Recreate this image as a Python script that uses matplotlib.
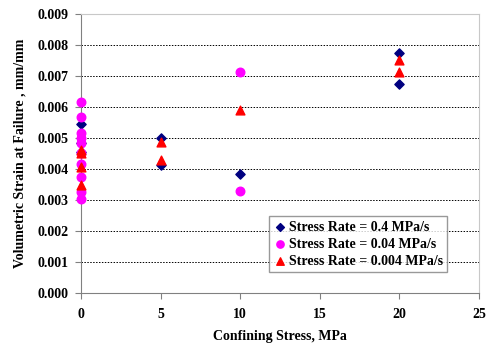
import matplotlib.pyplot as plt
import matplotlib.ticker as mticker

# Confining stress (MPa) and volumetric strain at failure (mm/mm)
x_04 = [0, 0, 0, 5, 5, 10, 20, 20]
y_04 = [0.00547, 0.00483, 0.00455, 0.00502, 0.00412, 0.00384, 0.00776, 0.00676]

x_004 = [0, 0, 0, 0, 0, 0, 0, 0, 0, 0, 10, 10]
y_004 = [0.00617, 0.00567, 0.00515, 0.00500, 0.00483, 0.00451, 0.00418,
         0.00375, 0.00327, 0.00302, 0.00713, 0.00330]

x_0004 = [0, 0, 0, 0, 5, 5, 10, 20, 20]
y_0004 = [0.00461, 0.00451, 0.00407, 0.00348, 0.00487, 0.00428, 0.00590, 0.00752, 0.00713]

labels = ["Stress Rate = 0.4 MPa/s", "Stress Rate = 0.04 MPa/s", "Stress Rate = 0.004 MPa/s"]

plt.rcParams['font.family'] = ['Liberation Serif', 'DejaVu Serif']
plt.rcParams['font.weight'] = 'bold'

fig = plt.figure(figsize=(5, 3.46), dpi=100)
ax = fig.add_axes([0.162, 0.153, 0.796, 0.806])

ax.scatter(x_04, y_04, marker='D', s=22, color='#000080', label=labels[0], zorder=3, clip_on=False)
ax.scatter(x_004, y_004, marker='o', s=38, color='#FF00FF', label=labels[1], zorder=3, clip_on=False)
ax.scatter(x_0004, y_0004, marker='^', s=40, color='#FF0000', label=labels[2], zorder=3, clip_on=False)

ax.set_xlim(0, 25)
ax.set_ylim(0, 0.009)
ax.xaxis.set_major_locator(mticker.MultipleLocator(5))
ax.yaxis.set_major_locator(mticker.MultipleLocator(0.001))
ax.yaxis.set_major_formatter(mticker.FormatStrFormatter('%.3f'))

ax.grid(axis='y', linestyle=(0, (1.5, 1.5)), color='black', linewidth=0.7)
ax.set_axisbelow(True)

for side in ['top', 'right']:
    ax.spines[side].set_color('#c8c8c8')
for side in ['left', 'bottom']:
    ax.spines[side].set_color('#808080')
ax.tick_params(axis='both', direction='out', color='#808080', length=4,
               labelsize=10, pad=5)
ax.tick_params(axis='x', pad=7)
for lab in ax.get_xticklabels() + ax.get_yticklabels():
    lab.set_fontweight('bold')

ax.set_xlabel("Confining Stress, MPa", fontsize=10, fontweight='bold', labelpad=6)
ax.set_ylabel("Volumetric Strain at Failure , mm/mm", fontsize=10, fontweight='bold', labelpad=8)

leg = ax.legend(loc='lower left', bbox_to_anchor=(0.473, 0.075), fontsize=10,
                frameon=True, fancybox=False, edgecolor='#808080',
                handletextpad=0.1, borderpad=0.3, labelspacing=0.3,
                handlelength=1.0, borderaxespad=0, markerscale=0.85)
leg.get_frame().set_linewidth(1.0)
for t in leg.get_texts():
    t.set_fontweight('bold')

fig.savefig("out.png", dpi=100)
